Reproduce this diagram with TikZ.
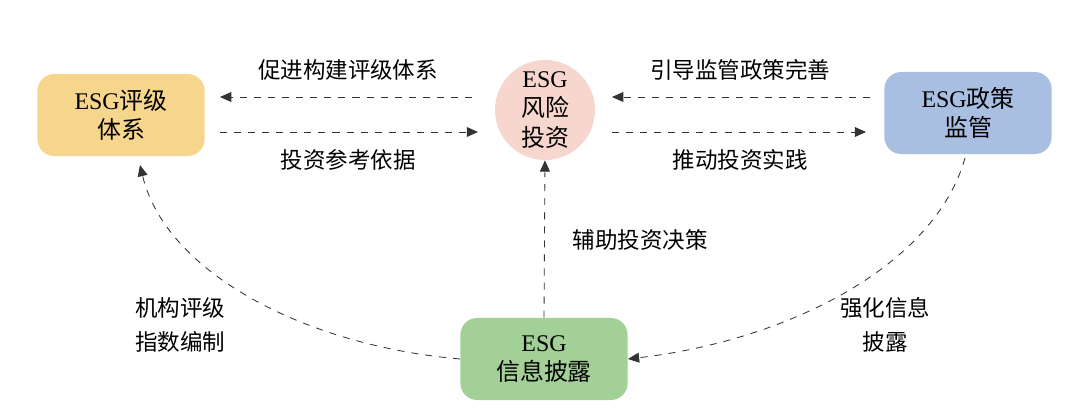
\documentclass[tikz,border=0pt]{standalone}
\usepackage{fontspec}
\setmainfont{Liberation Serif}
\newfontfamily\cjk{Noto Sans CJK SC}
\usetikzlibrary{arrows.meta}
\definecolor{cy}{HTML}{F6D68C}
\definecolor{cp}{HTML}{F7D6CE}
\definecolor{cb}{HTML}{A9BFE2}
\definecolor{cg}{HTML}{A2D096}
\tikzset{
 box/.style={rounded corners=12pt,minimum width=4.18cm,minimum height=2.05cm,align=center,font=\fontsize{17}{21}\selectfont},
 lab/.style={align=center,font=\cjk\fontsize{16}{24}\selectfont},
 arr/.style={dashed,dash pattern=on 5pt off 5pt,line width=0.6pt,draw=black!80,-{Triangle[length=8pt,width=7pt]}}
}
\begin{document}
\begin{tikzpicture}[x=0.025cm,y=-0.025cm]
\useasboundingbox (0,0) rectangle (1080,420);
\node[box,fill=cy] (r) at (121,115) {ESG{\cjk 评级}\\{\cjk 体系}};
\node[circle,fill=cp,minimum size=2.5cm,align=center,font=\fontsize{17}{21}\selectfont,inner sep=0pt] (c) at (545,110) {ESG\\{\cjk 风险}\\{\cjk 投资}};
\node[box,fill=cb] (p) at (968,113) {ESG{\cjk 政策}\\{\cjk 监管}};
\node[box,fill=cg] (g) at (544,359) {ESG\\{\cjk 信息披露}};
\coordinate (a1) at (472,97); \coordinate (a2) at (220,97);
\coordinate (b1) at (220,132); \coordinate (b2) at (478,132);
\coordinate (c1) at (870,97); \coordinate (c2) at (612,97);
\coordinate (d1) at (612,132); \coordinate (d2) at (866,132);
\draw[arr] (a1) -- (a2);
\draw[arr] (b1) -- (b2);
\draw[arr] (c1) -- (c2);
\draw[arr] (d1) -- (d2);
\draw[arr] (g.north) -- (c.south);
\draw[arr] (g.west) .. controls (300,345) and (165,270) .. (140,165);
\draw[arr] (965,158) .. controls (935,265) and (790,340) .. (g.east);
\node[lab] (l1) at (348,70) {促进构建评级体系};
\node[lab] (l2) at (348,160) {投资参考依据};
\node[lab] (l3) at (740,70) {引导监管政策完善};
\node[lab] (l4) at (740,160) {推动投资实践};
\node[lab] (l5) at (640,240) {辅助投资决策};
\node[lab] (l6) at (180,325) {机构评级\\指数编制};
\node[lab] (l7) at (885,325) {强化信息\\披露};
\end{tikzpicture}
\end{document}
